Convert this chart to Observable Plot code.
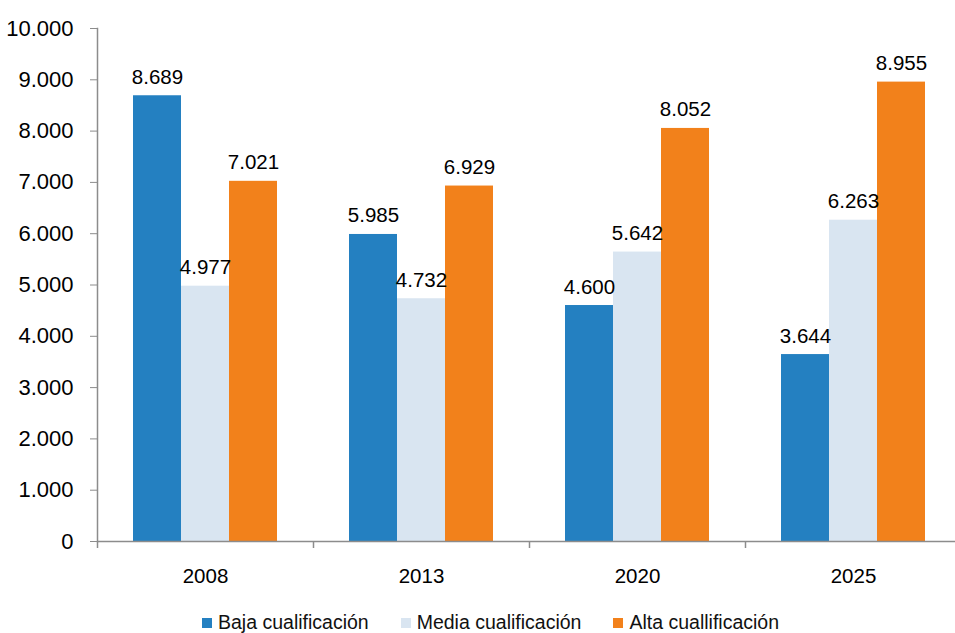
<!DOCTYPE html>
<html><head><meta charset="utf-8">
<script src="https://cdn.jsdelivr.net/npm/d3@7"></script>
<script src="https://cdn.jsdelivr.net/npm/@observablehq/plot@0.6"></script>
<style>
html,body{margin:0;padding:0;background:#fff;overflow:hidden;width:955px;height:633px;}
#wrap{position:relative;width:955px;height:633px;overflow:hidden;font-family:'Liberation Sans',Arial,sans-serif;}
#chart svg{max-width:none !important;}
#legend{position:absolute;left:202px;top:611px;display:flex;align-items:center;font-size:19.5px;line-height:23px;color:#111;white-space:nowrap;}
#legend .item{display:flex;align-items:center;margin-right:32px;}
#legend .sw{width:10px;height:10px;margin-right:6px;}
</style></head><body><div id="wrap"><div id="chart"></div><div id="legend"></div></div>
<script>
const years = ["2008", "2013", "2020", "2025"];
const series = ["Baja cualificación", "Media cualificación", "Alta cualificación"];
const legendLabels = ["Baja cualificación", "Media cualificación", "Alta cuallificación"];
const baja = [8689, 5985, 4600, 3644];
const media = [4977, 4732, 5642, 6263];
const alta = [7021, 6929, 8052, 8955];
const colors = ["#2480c1", "#d9e5f1", "#f2811b"];
const yTicks = [0, 1000, 2000, 3000, 4000, 5000, 6000, 7000, 8000, 9000, 10000];

const values = [baja, media, alta];
const data = [];
years.forEach((y, i) => series.forEach((s, j) => data.push({year: y, serie: s, value: values[j][i]})));

const loc = d3.formatLocale({decimal: ",", thousands: ".", grouping: [3], currency: ["", "€"]});
const fmt = loc.format(",d");
const font = "'Liberation Sans',Arial,sans-serif";

const chart = Plot.plot({
  width: 963,
  height: 600,
  marginLeft: 97,
  marginRight: 2,
  marginTop: 28,
  marginBottom: 59,
  style: {fontFamily: font, fontSize: "20px", color: "#000", background: "#fff", maxWidth: "none"},
  fx: {domain: years, padding: 0, label: null, axis: null},
  x: {domain: series, paddingInner: 0, paddingOuter: 0.73, axis: null},
  y: {domain: [0, 10000], label: null, axis: null},
  color: {domain: series, range: colors},
  marks: [
    Plot.barY(data, {fx: "year", x: "serie", y: "value", fill: "serie"}),
    Plot.text(data, {fx: "year", x: "serie", y: "value", text: d => fmt(d.value), lineAnchor: "bottom", dy: -12, fontSize: 20.5, fill: "#000"}),
    Plot.ruleY([0], {stroke: "#8c8c8c", strokeWidth: 1.5}),
    Plot.frame({anchor: "left", facetAnchor: "left", stroke: "#8c8c8c", strokeWidth: 1.5}),
    Plot.axisY({ticks: yTicks, tickFormat: fmt, tickSize: 7, tickPadding: 17, fontSize: 22, stroke: "#8c8c8c", fill: "#000", label: null}),
    Plot.axisFx({anchor: "bottom", tickSize: 0, tickPadding: 27, fontSize: 20.5, fill: "#000", label: null}),
    Plot.axisFx({anchor: "bottom", tickSize: 7, tickFormat: () => "", dx: -108, stroke: "#8c8c8c", strokeWidth: 1.5, label: null})
  ]
});
chart.style.maxWidth = "none";
document.getElementById("chart").appendChild(chart);

const legend = document.getElementById("legend");
legendLabels.forEach((l, i) => {
  const it = document.createElement("div");
  it.className = "item";
  const sw = document.createElement("span");
  sw.className = "sw";
  sw.style.background = colors[i];
  const t = document.createElement("span");
  t.textContent = l;
  it.appendChild(sw); it.appendChild(t);
  legend.appendChild(it);
});
</script></body></html>
